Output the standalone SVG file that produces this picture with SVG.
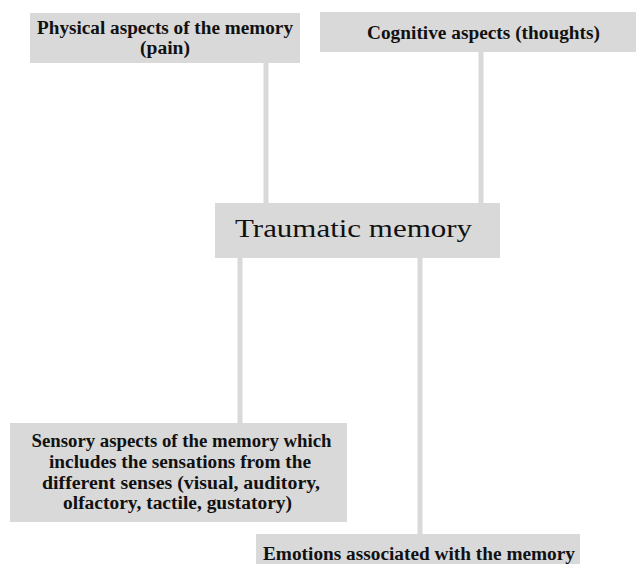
<svg xmlns="http://www.w3.org/2000/svg" width="636" height="564" viewBox="0 0 636 564">
<style>
.box{fill:#d9d9d9}
.ln{stroke:#d9d9d9;stroke-width:5;fill:none}
.t{font-family:"Liberation Serif","Times New Roman",serif;font-weight:bold;font-size:18px;fill:#111;text-anchor:middle}
.big{font-family:"Liberation Serif","Times New Roman",serif;font-size:26px;fill:#111;text-anchor:middle}
</style>
<rect width="636" height="564" fill="#fff"/>
<g id="connectors">
<line class="ln" x1="266" y1="63" x2="266" y2="203"/>
<line class="ln" x1="481" y1="52" x2="481" y2="203"/>
<line class="ln" x1="240" y1="258" x2="240" y2="423"/>
<line class="ln" x1="420" y1="258" x2="420" y2="534"/>
</g>
<g id="physical">
<rect class="box" x="30" y="13" width="270" height="50"/>
<text class="t" x="165" y="34" textLength="256" lengthAdjust="spacingAndGlyphs">Physical aspects of the memory</text>
<text class="t" x="165" y="54" textLength="50" lengthAdjust="spacingAndGlyphs">(pain)</text>
</g>
<g id="cognitive">
<rect class="box" x="320" y="12" width="316" height="40"/>
<text class="t" x="483.5" y="39" textLength="233" lengthAdjust="spacingAndGlyphs">Cognitive aspects (thoughts)</text>
</g>
<g id="traumatic">
<rect class="box" x="215" y="203" width="285" height="55"/>
<text class="big" x="353.5" y="237" textLength="237" lengthAdjust="spacingAndGlyphs">Traumatic memory</text>
</g>
<g id="sensory">
<rect class="box" x="10" y="423" width="337" height="99"/>
<text class="t" x="181.5" y="447" textLength="300" lengthAdjust="spacingAndGlyphs">Sensory aspects of the memory which</text>
<text class="t" x="180" y="468" textLength="262" lengthAdjust="spacingAndGlyphs">includes the sensations from the</text>
<text class="t" x="181" y="488.5" textLength="278" lengthAdjust="spacingAndGlyphs">different senses (visual, auditory,</text>
<text class="t" x="177.5" y="509" textLength="229" lengthAdjust="spacingAndGlyphs">olfactory, tactile, gustatory)</text>
</g>
<g id="emotions">
<rect class="box" x="256" y="534" width="324" height="30"/>
<text class="t" x="419" y="560" textLength="312" lengthAdjust="spacingAndGlyphs">Emotions associated with the memory</text>
</g>
</svg>
